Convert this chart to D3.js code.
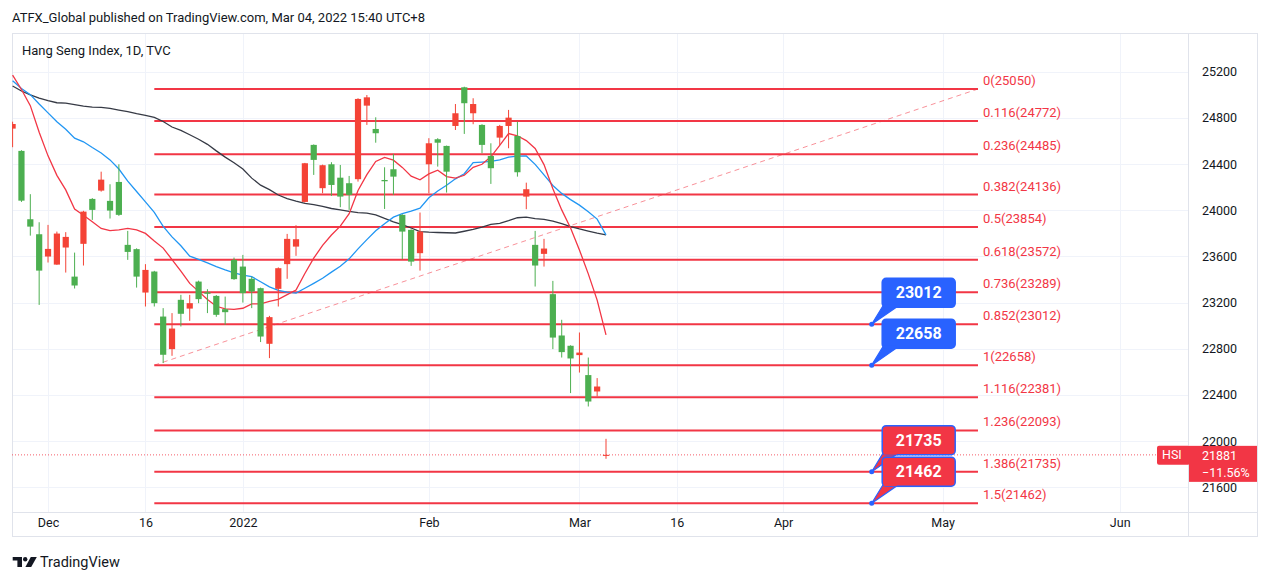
<!DOCTYPE html>
<html><head><meta charset="utf-8">
<script src="https://cdn.jsdelivr.net/npm/d3@7"></script>
<style>
body{margin:0;background:#fff;}
svg{display:block;font-family:Roboto,"Noto Sans",sans-serif;}
</style>
</head><body>
<svg id="c" width="1269" height="583"></svg>
<script>
// ---------- data ----------
const dates = ["2021-11-25","2021-11-26","2021-11-29","2021-11-30",
"2021-12-01","2021-12-02","2021-12-03","2021-12-06","2021-12-07","2021-12-08","2021-12-09","2021-12-10","2021-12-13","2021-12-14","2021-12-15","2021-12-16","2021-12-17","2021-12-20","2021-12-21","2021-12-22","2021-12-23","2021-12-24","2021-12-28","2021-12-29","2021-12-30","2021-12-31",
"2022-01-03","2022-01-04","2022-01-05","2022-01-06","2022-01-07","2022-01-10","2022-01-11","2022-01-12","2022-01-13","2022-01-14","2022-01-17","2022-01-18","2022-01-19","2022-01-20","2022-01-21","2022-01-24","2022-01-25","2022-01-26","2022-01-27","2022-01-28","2022-01-31",
"2022-02-04","2022-02-07","2022-02-08","2022-02-09","2022-02-10","2022-02-11","2022-02-14","2022-02-15","2022-02-16","2022-02-17","2022-02-18","2022-02-21","2022-02-22","2022-02-23","2022-02-24","2022-02-25","2022-02-28",
"2022-03-01","2022-03-02","2022-03-03","2022-03-04"];
const open  = [24707,24514,23922,23792,23599,23529,23677,23425,23709,24098,24170,24081,24245,23700,23663,23287,23469,23079,22797,23224,23148,23382,23289,23258,23143,23570,23512,23406,23325,22843,23319,23533,23685,24072,24566,24191,24398,24282,24234,24269,24906,24704,24262,24355,23960,23830,23628,24398,24615,24557,24730,25065,24840,24739,24470,24629,24730,24643,24118,23700,23622,23273,22915,22826,22745,22572,22430,21872];
const high  = [24767,24520,24139,23896,23873,23815,23810,23633,23995,24105,24334,24225,24398,23821,23670,23533,23475,23152,23109,23267,23267,23390,23316,23265,23252,23590,23613,23425,23330,23085,23505,23795,23870,24410,24570,24395,24416,24392,24297,24970,24998,24805,24372,24488,23965,23835,23980,24624,24624,24560,24920,25070,24970,24745,24580,24739,24869,24767,24239,23821,23752,23388,23051,22830,22941,22724,22546,22020];
const low   = [24546,24072,23780,23180,23547,23527,23460,23322,23521,23916,24161,23928,23951,23570,23330,23166,23166,22676,22739,22993,23042,23195,23109,23077,23007,23397,23200,23152,22858,22719,23166,23406,23605,24066,24306,24147,24124,24026,24003,24248,24739,24585,24011,24133,23576,23518,23477,24147,24378,24153,24695,24661,24745,24494,24228,24566,24537,24291,24009,23339,23512,22797,22724,22416,22594,22300,22387,21847];
const close = [24747,24083,23858,23477,23665,23798,23769,23348,23988,24003,24265,23997,23960,23639,23425,23483,23195,22748,22975,23103,23195,23230,23276,23094,23117,23403,23282,23296,22906,23074,23498,23752,23749,24407,24436,24390,24219,24118,24133,24964,24978,24667,24251,24291,23815,23555,23815,24580,24585,24334,24840,24927,24920,24566,24364,24730,24802,24329,24182,23521,23668,22897,22771,22716,22767,22343,22473,21881];
const maRed   = [25171,25046,24906,24675,24471,24302,24176,24010,23957,23900,23842,23824,23830,23843,23830,23799,23734,23672,23573,23472,23366,23297,23227,23168,23146,23141,23151,23189,23189,23211,23228,23269,23308,23452,23585,23695,23785,23862,23970,24171,24308,24423,24458,24434,24371,24295,24263,24315,24347,24292,24279,24303,24372,24398,24463,24562,24664,24645,24603,24535,24395,24186,24003,23846,23656,23449,23221,22921];
const maBlue  = [25122,25055,25001,24920,24843,24766,24702,24624,24593,24543,24496,24436,24357,24252,24162,24073,23981,23860,23769,23692,23602,23574,23544,23512,23483,23458,23437,23425,23381,23336,23306,23291,23282,23324,23367,23411,23464,23515,23579,23665,23745,23822,23883,23940,23971,23992,24018,24108,24167,24217,24272,24316,24412,24417,24423,24436,24460,24469,24470,24397,24306,24214,24146,24092,24044,23987,23923,23786];
const maBlack = [25076,25033,25000,24972,24950,24931,24927,24914,24901,24894,24891,24883,24868,24854,24836,24821,24804,24769,24721,24692,24654,24615,24571,24514,24460,24412,24357,24278,24217,24178,24132,24101,24079,24059,24049,24033,24015,24004,23990,23980,23975,23960,23929,23900,23876,23846,23815,23810,23807,23805,23803,23818,23834,23853,23877,23887,23910,23935,23940,23928,23921,23905,23883,23858,23838,23820,23802,23786];

const priceTicks = [21600,22000,22400,22800,23200,23600,24000,24400,24800,25200];
const timeLabels = ["Dec","16","2022","Feb","Mar","16","Apr","May","Jun"];
const timeLabelIdx = [4,15,26,47,64,75,87,105,125];

const fibRatios = ["0","0.116","0.236","0.382","0.5","0.618","0.736","0.852","1","1.116","1.236","1.386","1.5"];
const fibPrices = [25050,24772,24485,24136,23854,23572,23289,23012,22658,22381,22093,21735,21462];
const fibAnchorIdx = [16,109];
const fibAnchorPrice = [22658,25050];

const calloutPrices = [23012,22658,21735,21462];
const calloutColors = ["#2962ff","#2962ff","#f23645","#f23645"];
const calloutIdx = 97;

const lastPrice = 21881;
const lastChange = "\u221211.56%";

// ---------- layout ----------
const L=12, R=1188, T=33, B=512, AR=1257, TB=536;
const RED="#f23645", GREEN="#4caf50", UPC="#f44336";
const svg = d3.select("#c");
const x = d3.scaleLinear().domain([0, dates.length-1]).range([12.6, 606]);
const y = d3.scaleLinear().domain([21600, 25200]).range([487.3, 71.7]);

svg.append("defs").append("clipPath").attr("id","plot")
  .append("rect").attr("x",L).attr("y",T).attr("width",R-L).attr("height",B-T);

// header
svg.append("text").attr("x",12).attr("y",22).attr("font-size",13).attr("fill","#131722")
  .text("ATFX_Global published on TradingView.com, Mar 04, 2022 15:40 UTC+8");

// grid
const grid = svg.append("g");
grid.selectAll(".hg").data(priceTicks).join("line")
  .attr("x1",L).attr("x2",R).attr("y1",d=>Math.round(y(d))+0.5).attr("y2",d=>Math.round(y(d))+0.5)
  .attr("stroke","#f0f3fa");
grid.selectAll(".vg").data(timeLabelIdx).join("line")
  .attr("x1",d=>Math.round(x(d))+0.5).attr("x2",d=>Math.round(x(d))+0.5).attr("y1",T).attr("y2",B)
  .attr("stroke","#f0f3fa");

// frame
const fr = svg.append("g").attr("stroke","#e0e3eb").attr("fill","none");
fr.append("rect").attr("x",L+0.5).attr("y",T+0.5).attr("width",AR-L).attr("height",TB-T);
fr.append("line").attr("x1",R+0.5).attr("x2",R+0.5).attr("y1",T).attr("y2",TB);
fr.append("line").attr("x1",L).attr("x2",AR).attr("y1",B+0.5).attr("y2",B+0.5);

// title
svg.append("text").attr("x",22).attr("y",55).attr("font-size",13).attr("fill","#131722")
  .text("Hang Seng Index, 1D, TVC");

const plot = svg.append("g").attr("clip-path","url(#plot)");

// fib lines
const fx1 = x(fibAnchorIdx[0]), fx2 = x(fibAnchorIdx[1]);
plot.selectAll(".fib").data(fibPrices).join("line")
  .attr("x1",fx1).attr("x2",fx2).attr("y1",d=>y(d)).attr("y2",d=>y(d))
  .attr("stroke",RED).attr("stroke-width",2);
plot.append("line")
  .attr("x1",x(fibAnchorIdx[0])).attr("y1",y(fibAnchorPrice[0]))
  .attr("x2",x(fibAnchorIdx[1])).attr("y2",y(fibAnchorPrice[1]))
  .attr("stroke",RED).attr("stroke-opacity",0.55).attr("stroke-dasharray","5 4");
plot.selectAll(".fibl").data(fibPrices).join("text")
  .attr("x",fx2+5).attr("y",d=>y(d)-4).attr("font-size",13).attr("fill",RED)
  .text((d,i)=>`${fibRatios[i]}(${d})`);

// MAs
const line = d3.line().x((d,i)=>x(i)).y(d=>y(d)).curve(d3.curveLinear);
[[maBlack,"#363a45"],[maBlue,"#2196f3"],[maRed,RED]].forEach(([arr,c])=>{
  plot.append("path").attr("d",line(arr)).attr("fill","none").attr("stroke",c).attr("stroke-width",1.3);
});

// candles
const bw = 6.2;
const cg = plot.append("g");
dates.forEach((d,i)=>{
  const up = close[i] >= open[i];
  const col = up ? UPC : GREEN;
  const cx = x(i);
  cg.append("line").attr("x1",cx).attr("x2",cx).attr("y1",y(high[i])).attr("y2",y(low[i]))
    .attr("stroke",col).attr("stroke-width",1);
  const t = y(Math.max(open[i],close[i])), b = y(Math.min(open[i],close[i]));
  cg.append("rect").attr("x",cx-bw/2).attr("y",t).attr("width",bw).attr("height",Math.max(1,b-t))
    .attr("fill",col);
});

// last price dotted line
plot.append("line").attr("x1",L).attr("x2",1157).attr("y1",y(lastPrice)).attr("y2",y(lastPrice))
  .attr("stroke",RED).attr("stroke-dasharray","1 2").attr("stroke-opacity",0.8);

// callouts
const ax = x(calloutIdx);
calloutPrices.forEach((p,i)=>{
  const ay = y(p), col = calloutColors[i];
  const g = plot.append("g");
  const strokeC = "#2962ff";
  g.append("path").attr("d",`M${ax},${ay} L${ax+11},${ay-18} L${ax+26},${ay-18} Z`)
    .attr("fill",col).attr("stroke",strokeC).attr("stroke-width",1.2);
  g.append("rect").attr("x",ax+10.5).attr("y",ay-46).attr("width",73).attr("height",29).attr("rx",4)
    .attr("fill",col).attr("stroke",strokeC).attr("stroke-width",1.5);
  g.append("rect").attr("x",ax+12).attr("y",ay-20).attr("width",13).attr("height",3).attr("fill",col);
  g.append("text").attr("x",ax+47).attr("y",ay-31.5).attr("text-anchor","middle")
    .attr("dominant-baseline","central").attr("font-size",16).attr("font-weight","bold")
    .attr("fill","#fff").text(p);
  g.append("circle").attr("cx",ax).attr("cy",ay).attr("r",2.5).attr("fill","#2962ff");
});

// price axis
const ya = svg.append("g").attr("transform",`translate(${R},0)`)
  .call(d3.axisRight(y).tickValues(priceTicks).tickSize(0).tickPadding(14).tickFormat(d3.format("d")));
ya.select(".domain").remove();
ya.selectAll("text").attr("font-size",12.5).attr("fill","#131722").attr("font-family","Roboto");

// time axis
const xa = svg.append("g").attr("transform",`translate(0,${B})`)
  .call(d3.axisBottom(x).tickValues(timeLabelIdx).tickSize(0).tickPadding(6).tickFormat((d,i)=>timeLabels[i]));
xa.select(".domain").remove();
xa.selectAll("text").attr("font-size",12.5).attr("fill","#131722").attr("font-family","Roboto");

// last price labels
const ly = y(lastPrice);
svg.append("rect").attr("x",1157).attr("y",ly-9).attr("width",33).attr("height",19).attr("rx",2).attr("fill",RED);
svg.append("text").attr("x",1162).attr("y",ly+4.5).attr("font-size",12.5).attr("fill","#fff").text("HSI");
svg.append("rect").attr("x",R+1).attr("y",ly-9).attr("width",AR-R-1).attr("height",36).attr("fill",RED);
svg.append("text").attr("x",1202).attr("y",ly+5).attr("font-size",12.5).attr("fill","#fff").text(lastPrice);
svg.append("text").attr("x",1202).attr("y",ly+22).attr("font-size",12.5).attr("fill","#fff").text(lastChange);

// footer logo
const lg = svg.append("g").attr("fill","#131722");
lg.append("path").attr("d","M12.7,557 h9.3 v10 h-4.6 v-6.4 h-4.7 z");
lg.append("circle").attr("cx",25.2).attr("cy",559.2).attr("r",2.2);
lg.append("path").attr("d","M30.8,557 h6 l-5.6,10 h-5.8 z");
svg.append("text").attr("x",40).attr("y",567).attr("font-size",14.5).attr("fill","#131722").text("TradingView");
</script>
</body></html>
